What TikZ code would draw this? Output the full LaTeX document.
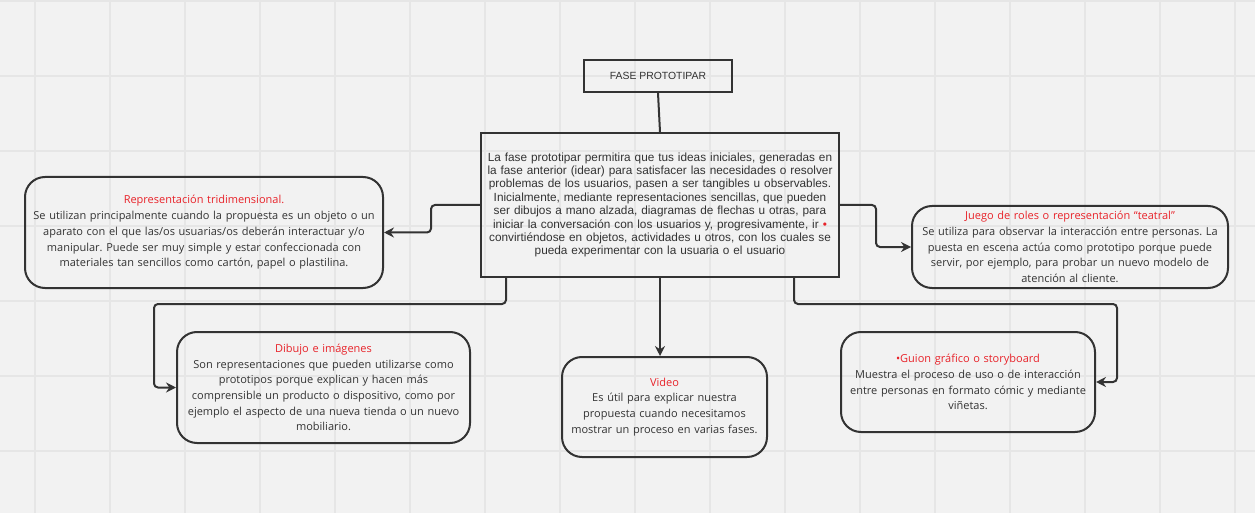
\documentclass[tikz,border=0pt]{standalone}
\usepackage{fontspec}
\setmainfont{Open Sans}
\newfontfamily\arialf{Liberation Sans}
\usetikzlibrary{arrows.meta,calc}
\definecolor{bg}{HTML}{F2F2F2}
\definecolor{gridc}{HTML}{E6E6E6}
\definecolor{ink}{HTML}{333333}
\definecolor{ttl}{HTML}{E8232A}
\tikzset{
  rbox/.style={draw=ink, line width=1.5pt, rounded corners=15pt, align=center, text=ink,
    font=\fontsize{8.25}{11.8}\selectfont, inner sep=0pt},
  sbox/.style={draw=ink, line width=1.5pt, align=center, text=ink, inner sep=0pt},
  conn/.style={draw=ink, line width=1.5pt, rounded corners=3pt,
    -{Stealth[length=7.5pt,width=7.5pt,inset=2.5pt]}},
  plain/.style={draw=ink, line width=1.5pt},
}
\newcommand{\ttlt}[1]{\textcolor{ttl}{#1}}
\frenchspacing
\begin{document}
\begin{tikzpicture}[x=0.75pt,y=-0.75pt]
\fill[bg] (0,0) rectangle (1255,513);
\useasboundingbox (0,0) rectangle (1255,513);
\foreach \gx in {35,110,...,1235} \draw[gridc, line width=1pt] (\gx,0) -- (\gx,513);
\foreach \gy in {1,76,...,513} \draw[gridc, line width=1pt] (0,\gy) -- (1255,\gy);

\node[sbox, minimum width=111pt, minimum height=24pt, font=\arialf\fontsize{7.8}{9}\selectfont] (fase) at (658,76) {FASE PROTOTIPAR};

\node[sbox, minimum width=268.5pt, minimum height=108pt, text width=267pt, font=\arialf\fontsize{8.85}{10.05}\selectfont] (main) at (660,205) {La fase prototipar permitira que tus ideas iniciales, generadas en\\
la fase anterior (idear) para satisfacer las necesidades o resolver\\
problemas de los usuarios, pasen a ser tangibles u observables.\\
Inicialmente, mediante representaciones sencillas, que pueden\\
ser dibujos a mano alzada, diagramas de flechas u otras, para\\
iniciar la conversación con los usuarios y, progresivamente, ir~\ttlt{\textbullet}\\
convirtiéndose en objetos, actividades u otros, con los cuales se\\
pueda experimentar con la usuaria o el usuario};

\node[rbox, minimum width=268.5pt, minimum height=83.25pt, text width=264pt] (tri) at (204,232.5) {\ttlt{Representación tridimensional.}\\
Se utilizan principalmente cuando la propuesta es un objeto o un\\
aparato con el que las/os usuarias/os deberán interactuar y/o\\
manipular. Puede ser muy simple y estar confeccionada con\\
materiales tan sencillos como cartón, papel o plastilina.};

\node[rbox, minimum width=237pt, minimum height=61.5pt, text width=234pt] (rol) at (1070,247) {\ttlt{Juego de roles o representación “teatral”}\\
Se utiliza para observar la interacción entre personas. La\\
puesta en escena actúa como prototipo porque puede\\
servir, por ejemplo, para probar un nuevo modelo de\\
atención al cliente.};

\node[rbox, minimum width=219.75pt, minimum height=83.25pt, text width=216pt] (dib) at (323.5,387.5) {\ttlt{Dibujo e imágenes}\\
Son representaciones que pueden utilizarse como\\
prototipos porque explican y hacen más\\
comprensible un producto o dispositivo, como por\\
ejemplo el aspecto de una nueva tienda o un nuevo\\
mobiliario.};

\node[rbox, minimum width=153.75pt, minimum height=75pt, text width=151pt] (vid) at (664.5,407) {\ttlt{Video}\\
Es útil para explicar nuestra\\
propuesta cuando necesitamos\\
mostrar un proceso en varias fases.};

\node[rbox, minimum width=190.5pt, minimum height=75pt, text width=188pt] (gui) at (968,382) {\ttlt{\textbullet Guion gráfico o storyboard}\\
Muestra el proceso de uso o de interacción\\
entre personas en formato cómic y mediante\\
viñetas.};

\coordinate (dl) at (154,304);
\coordinate (dr) at (1117,304);

\draw[plain] (fase.south) -- (main.north);
\draw[conn] (main.west) -- ++(-49,0) |- (tri.east);
\draw[conn] (main.east) -- ++(36,0) |- (rol.west);
\draw[conn] (main.south) -- (main.south |- vid.north);
\draw[conn] ($(main.south)+(-154,0)$) |- (dl) |- (dib.west);
\draw[conn] ($(main.south)+(134,0)$) |- (dr) |- (gui.east);
\end{tikzpicture}
\end{document}
